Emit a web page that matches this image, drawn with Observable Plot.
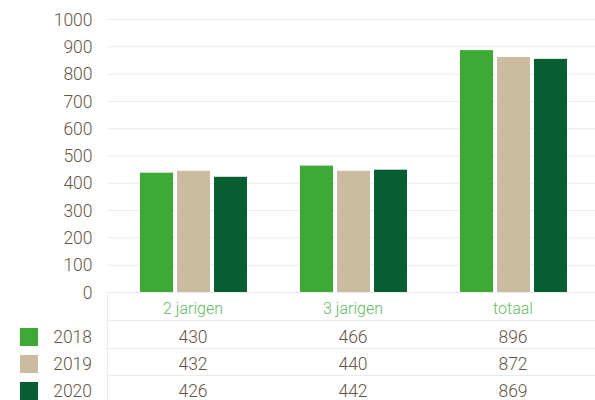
<!DOCTYPE html>
<html>
<head>
<meta charset="utf-8">
<script src="https://cdn.jsdelivr.net/npm/d3@7"></script>
<script src="https://cdn.jsdelivr.net/npm/@observablehq/plot@0.6"></script>
<style>
  html, body { margin: 0; padding: 0; background: #fff; }
  #chart { position: relative; width: 595px; height: 400px; overflow: hidden;
           font-family: Roboto, "Noto Sans", sans-serif; font-weight: 300; color: #65554a; }
  #chart svg { position: absolute; left: 0; top: 0; }
  #chart svg text { font-weight: 300; fill: #65554a; }
  .tbl { position: absolute; left: 0; top: 292px; width: 595px; height: 108px; }
  .row { position: absolute; left: 0; width: 595px; }
  .row .line { position: absolute; left: 107px; right: 0; top: 0; height: 1px; background: #ebebeb; }
  .vline { position: absolute; left: 107px; top: 0; width: 1px; height: 108px; background: #ebebeb; }
  .cell { position: absolute; width: 120px; text-align: center; white-space: nowrap; }
  .head { color: #5fbb5f; font-size: 16px; }
  .num { font-size: 17.5px; }
  .yr { position: absolute; left: 0; width: 92px; text-align: right; font-size: 17.5px; }
  .sw { position: absolute; left: 20px; width: 18px; height: 18px; }
</style>
</head>
<body>
<div id="chart"></div>
<script>
// ---- data ----
const categories = ["2 jarigen", "3 jarigen", "totaal"];
const years = ["2018", "2019", "2020"];
const colors = ["#3daa35", "#cbbba0", "#075e30"];
// bar heights as drawn in the reference
const bars2018 = [437, 463, 886];
const bars2019 = [444, 444, 861];
const bars2020 = [422, 448, 854];
// values printed in the table
const table2018 = [430, 466, 896];
const table2019 = [432, 440, 872];
const table2020 = [426, 442, 869];
const yTicks = [0, 100, 200, 300, 400, 500, 600, 700, 800, 900, 1000];

const barSeries = [bars2018, bars2019, bars2020];
const tableSeries = [table2018, table2019, table2020];
const data = [];
years.forEach((yr, i) => categories.forEach((c, j) => data.push({cat: c, year: yr, value: barSeries[i][j]})));

const common = {
  width: 595,
  height: 302,
  marginTop: 19,
  marginBottom: 10,
  marginLeft: 108,
  marginRight: 0,
  style: {fontFamily: "Roboto, 'Noto Sans', sans-serif", fontSize: "17.5px", background: "transparent", overflow: "visible"}
};

// background: grid + y axis spanning the whole frame
const back = Plot.plot({
  ...common,
  y: {domain: [0, 1000], label: null},
  marks: [
    Plot.ruleY(yTicks, {stroke: "#ebebeb", strokeWidth: 1}),
    Plot.axisY({ticks: yTicks, tickSize: 0, tickPadding: 16, tickFormat: d => String(d), dy: 0.5, label: null})
  ]
});

// foreground: grouped bars
const plot = Plot.plot({
  ...common,
  fx: {domain: categories, paddingInner: 0.3, paddingOuter: 0.167, align: 0.53, axis: null, label: null},
  x: {domain: years, paddingInner: 0.12, paddingOuter: 0.06, axis: null, label: null},
  y: {domain: [0, 1000], axis: null, label: null},
  color: {domain: years, range: colors},
  marks: [
    Plot.barY(data, {fx: "cat", x: "year", y: "value", fill: "year"})
  ]
});

const chart = document.getElementById("chart");
chart.appendChild(back);
chart.appendChild(plot);

// ---- table below the plot, columns aligned to the fx scale ----
const fx = plot.scale("fx");
const centers = categories.map(c => fx.apply(c) + fx.bandwidth / 2);

const tbl = document.createElement("div");
tbl.className = "tbl";
chart.appendChild(tbl);

const rowsSpec = [
  {top: 0, h: 28},
  {top: 28, h: 28},
  {top: 56, h: 27},
  {top: 83, h: 27}
];

rowsSpec.forEach((spec, r) => {
  const row = document.createElement("div");
  row.className = "row";
  row.style.top = spec.top + "px";
  row.style.height = spec.h + "px";
  const line = document.createElement("div");
  line.className = "line";
  row.appendChild(line);
  const off = r === 0 ? 2.5 : 2.5;
  if (r === 0) {
    categories.forEach((c, j) => {
      const cell = document.createElement("div");
      cell.className = "cell head";
      cell.textContent = c;
      cell.style.left = (centers[j] - 60) + "px";
      cell.style.top = off + "px";
      cell.style.lineHeight = spec.h + "px";
      row.appendChild(cell);
    });
  } else {
    const i = r - 1;
    const sw = document.createElement("div");
    sw.className = "sw";
    sw.style.background = colors[i];
    sw.style.top = (off + (spec.h - 18) / 2) + "px";
    row.appendChild(sw);
    const yr = document.createElement("div");
    yr.className = "yr";
    yr.textContent = years[i];
    yr.style.top = off + "px";
    yr.style.lineHeight = spec.h + "px";
    row.appendChild(yr);
    categories.forEach((c, j) => {
      const cell = document.createElement("div");
      cell.className = "cell num";
      cell.textContent = String(tableSeries[i][j]);
      cell.style.left = (centers[j] - 60) + "px";
      cell.style.top = off + "px";
      cell.style.lineHeight = spec.h + "px";
      row.appendChild(cell);
    });
  }
  tbl.appendChild(row);
});

const vline = document.createElement("div");
vline.className = "vline";
tbl.appendChild(vline);
</script>
</body>
</html>
